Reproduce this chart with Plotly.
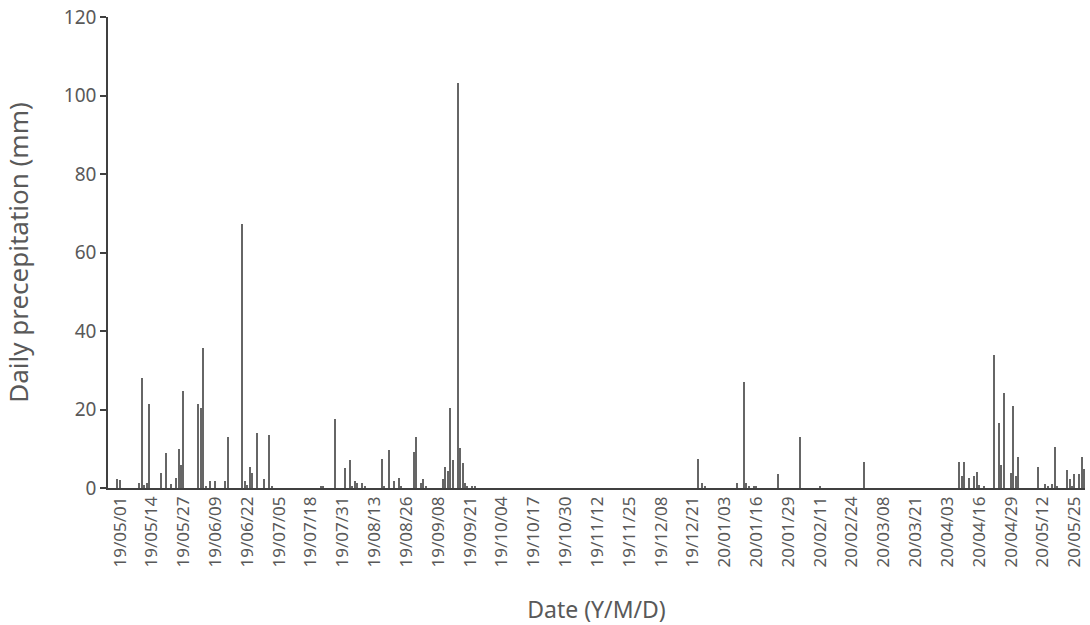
import plotly.graph_objects as go

# Daily precipitation (mm)
dates = [
    "2019-05-02", "2019-05-03", "2019-05-11", "2019-05-12", "2019-05-13", "2019-05-14", "2019-05-15",
    "2019-05-20", "2019-05-22", "2019-05-24", "2019-05-26", "2019-05-27", "2019-05-28", "2019-05-29",
    "2019-06-04", "2019-06-05", "2019-06-06", "2019-06-07", "2019-06-09", "2019-06-11", "2019-06-15",
    "2019-06-16", "2019-06-22", "2019-06-23", "2019-06-24", "2019-06-25", "2019-06-26", "2019-06-28",
    "2019-07-01", "2019-07-03", "2019-07-04", "2019-07-24", "2019-07-25", "2019-07-30",
    "2019-08-03", "2019-08-05", "2019-08-06", "2019-08-07", "2019-08-08", "2019-08-10", "2019-08-11",
    "2019-08-18", "2019-08-19", "2019-08-21", "2019-08-23", "2019-08-25", "2019-08-26", "2019-08-31",
    "2019-09-01", "2019-09-03", "2019-09-04", "2019-09-05", "2019-09-12", "2019-09-13", "2019-09-14",
    "2019-09-15", "2019-09-16", "2019-09-18", "2019-09-19", "2019-09-20", "2019-09-21", "2019-09-22",
    "2019-09-24", "2019-09-25",
    "2019-12-25", "2019-12-27", "2019-12-28",
    "2020-01-10", "2020-01-13", "2020-01-14", "2020-01-15", "2020-01-17", "2020-01-18", "2020-01-27",
    "2020-02-05", "2020-02-13", "2020-03-02",
    "2020-04-10", "2020-04-11", "2020-04-12", "2020-04-14", "2020-04-16", "2020-04-17", "2020-04-18",
    "2020-04-20", "2020-04-24", "2020-04-26", "2020-04-27", "2020-04-28",
    "2020-05-01", "2020-05-02", "2020-05-03", "2020-05-04", "2020-05-12", "2020-05-15", "2020-05-16",
    "2020-05-18", "2020-05-19", "2020-05-20", "2020-05-24", "2020-05-25", "2020-05-26", "2020-05-27",
    "2020-05-29", "2020-05-30", "2020-05-31",
]
precip = [
    2.3, 2.0, 1.3, 27.9, 0.8, 1.3, 21.5,
    3.7, 8.8, 1.0, 2.6, 10.0, 5.8, 24.7,
    21.5, 20.5, 35.6, 0.5, 1.8, 1.8, 1.8,
    12.9, 67.3, 1.8, 0.7, 5.4, 3.7, 14.0,
    2.4, 13.6, 0.4, 0.5, 0.5, 17.6,
    5.2, 7.1, 0.5, 1.8, 1.4, 1.3, 0.3,
    7.5, 0.5, 9.6, 1.9, 2.6, 0.5, 9.2,
    13.1, 1.2, 2.2, 0.4, 2.2, 5.4, 4.3,
    20.3, 7.1, 103.3, 10.3, 6.4, 1.2, 0.4,
    0.4, 0.4,
    7.5, 1.3, 0.4,
    1.3, 27.1, 1.3, 0.5, 0.5, 0.5, 3.5,
    13.1, 0.5, 6.7,
    6.7, 3.0, 6.7, 2.6, 3.0, 4.1, 0.8,
    0.4, 33.8, 16.5, 5.8, 24.1,
    3.7, 20.9, 3.0, 7.8, 5.4, 1.0, 0.5,
    1.0, 10.4, 0.4, 4.5, 2.2, 0.5, 3.6,
    3.6, 7.8, 4.9,
]

tick_dates = [
    "2019-05-01", "2019-05-14", "2019-05-27", "2019-06-09", "2019-06-22", "2019-07-05",
    "2019-07-18", "2019-07-31", "2019-08-13", "2019-08-26", "2019-09-08", "2019-09-21",
    "2019-10-04", "2019-10-17", "2019-10-30", "2019-11-12", "2019-11-25", "2019-12-08",
    "2019-12-21", "2020-01-03", "2020-01-16", "2020-01-29", "2020-02-11", "2020-02-24",
    "2020-03-08", "2020-03-21", "2020-04-03", "2020-04-16", "2020-04-29", "2020-05-12",
    "2020-05-25",
]
tick_labels = [
    "19/05/01", "19/05/14", "19/05/27", "19/06/09", "19/06/22", "19/07/05",
    "19/07/18", "19/07/31", "19/08/13", "19/08/26", "19/09/08", "19/09/21",
    "19/10/04", "19/10/17", "19/10/30", "19/11/12", "19/11/25", "19/12/08",
    "19/12/21", "20/01/03", "20/01/16", "20/01/29", "20/02/11", "20/02/24",
    "20/03/08", "20/03/21", "20/04/03", "20/04/16", "20/04/29", "20/05/12",
    "20/05/25",
]
y_ticks = [0, 20, 40, 60, 80, 100, 120]

FONT = "Noto Sans"
TXT = "#595959"
DAY_MS = 86400000

fig = go.Figure(
    go.Bar(
        x=dates,
        y=precip,
        width=0.5 * DAY_MS,
        marker=dict(color="#666666", line=dict(width=0)),
    )
)

# plot area at x 108-1085, y 17-488 (page body margin removed in post_script)
fig.update_layout(
    width=1090,
    height=625,
    margin=dict(l=108, r=5, t=17, b=137),
    paper_bgcolor="white",
    plot_bgcolor="white",
    showlegend=False,
    font=dict(family=FONT, color=TXT),
    bargap=0,
)

fig.update_xaxes(
    type="date",
    automargin=False,
    range=["2019-04-28 03:00", "2020-05-31 06:00"],
    tickmode="array",
    tickvals=tick_dates,
    ticktext=tick_labels,
    tickangle=-90,
    ticklabelshift=5,
    ticklabeloverflow="allow",
    tickfont=dict(size=17, color=TXT, family=FONT),
    showgrid=False,
    zeroline=False,
    showline=True,
    linecolor="#404040",
    linewidth=1.5,
    ticks="",
    title=dict(text="Date (Y/M/D)", font=dict(size=23, color=TXT, family=FONT), standoff=36),
)

fig.update_yaxes(
    automargin=False,
    range=[0, 120],
    tickmode="array",
    tickvals=y_ticks,
    ticklabeloverflow="allow",
    tickfont=dict(size=19, color=TXT, family=FONT),
    showgrid=False,
    zeroline=False,
    showline=True,
    linecolor="#404040",
    linewidth=1.5,
    ticks="outside",
    ticklen=6,
    tickcolor="#404040",
    tickwidth=1.5,
    title=dict(text="Daily precepitation (mm)", font=dict(size=26, color=TXT, family=FONT), standoff=29),
)

fig.write_html(
    "out.html",
    config={"displayModeBar": False},
    post_script="document.body.style.margin='0';document.body.style.padding='0';",
)
